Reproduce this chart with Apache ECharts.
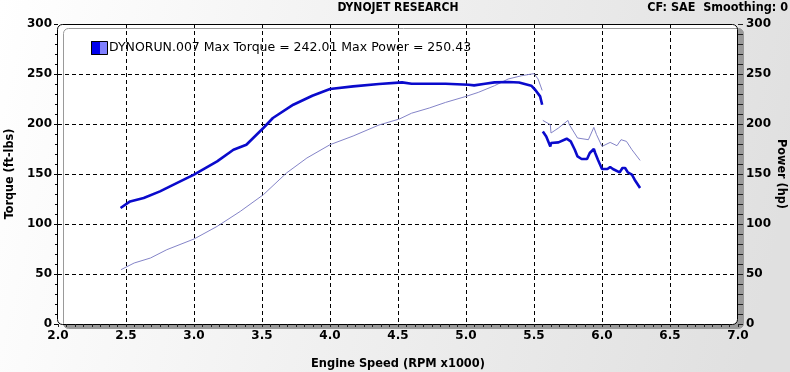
<!DOCTYPE html>
<html>
<head>
<meta charset="utf-8">
<script src="https://cdn.jsdelivr.net/npm/echarts@6/dist/echarts.min.js"></script>
<style>
html,body{margin:0;padding:0;}
#c{width:790px;height:372px;}
</style>
</head>
<body>
<div id="c"></div>
<script>
// ---- data ----
var xTicks = [2.0, 2.5, 3.0, 3.5, 4.0, 4.5, 5.0, 5.5, 6.0, 6.5, 7.0];
var yTicks = [0, 50, 100, 150, 200, 250, 300];

var torqueRpm = [2.46,2.53,2.63,2.75,2.85,3.00,3.17,3.29,3.385,3.51,3.58,3.73,3.87,4.00,4.17,4.36,4.53,4.60,4.85,5.02,5.06,5.14,5.21,5.31,5.39,5.48,5.51,5.545,5.56,
  5.5625,
  5.565,5.59,5.62,5.625,5.68,5.74,5.77,5.80,5.82,5.85,5.89,5.91,5.94,5.95,5.97,6.00,6.04,6.06,6.08,6.13,6.15,6.17,6.19,6.22,6.24,6.28];
var torqueVal = [116,122.6,126,132.6,139.3,149.3,162.6,174.3,179.3,196,206,219.3,228.3,235,237.6,240,241.6,240.3,240.3,239.3,238.6,240.3,241.6,242,241.5,238.3,234,227.6,219.3,
  '-',
  192.6,187.6,177.6,181,181.6,185.3,182.6,174.3,167.6,165,165,171,175,171,164.3,155,155,157,155,151.6,156,156,151.6,149.3,144.3,136];

var powerRpm = [2.463,2.56,2.68,2.80,3.00,3.17,3.34,3.51,3.68,3.83,4.00,4.17,4.36,4.51,4.60,4.73,4.85,5.00,5.09,5.21,5.31,5.41,5.50,5.53,5.56,
  5.5625,
  5.565,5.62,5.625,5.68,5.75,5.76,5.82,5.90,5.94,5.96,6.00,6.06,6.11,6.14,6.18,6.22,6.28];
var powerVal = [54.3,61,66,74.3,85,97.6,112.6,129.3,151,166,179.3,188,199,205,210.8,216,221.6,227.6,231.6,238.3,245,248.3,250.4,245,233.6,
  '-',
  203.6,199.3,191,196,203.6,199.3,186,184.3,196.6,189.3,177.6,181.6,178.3,184.3,182.6,174.3,163.6];

var titleText = 'DYNOJET RESEARCH';
var cornerText = 'CF: SAE  Smoothing: 0';
var legendText = 'DYNORUN.007 Max Torque = 242.01 Max Power = 250.43';
var xName = 'Engine Speed (RPM x1000)';
var yLeftName = 'Torque (ft-lbs)';
var yRightName = 'Power (hp)';

function pairs(xs, ys){ return xs.map(function(x,i){ return [x, ys[i]]; }); }

var COND = "'DejaVu Sans Condensed','DejaVu Sans',sans-serif";
var SANS = "'DejaVu Sans',Verdana,sans-serif";

var chart = echarts.init(document.getElementById('c'), null, {renderer:'canvas'});
var option = {
  animation: false,
  backgroundColor: {
    type:'linear', x:0, y:0, x2:1, y2:0.5,
    colorStops:[{offset:0,color:'#ffffff'},{offset:1,color:'#e0e0e0'}]
  },
  grid: {left:58, right:52, top:24, bottom:48, containLabel:false, outerBoundsMode:'none'},
  graphic: [
    {type:'rect', z:-10, shape:{x:57.5,y:24.5,width:680,height:300,r:5},
      style:{fill:'#ffffff', stroke:'#000000', lineWidth:1,
        shadowColor:'#9a9a9a', shadowOffsetX:6, shadowOffsetY:4, shadowBlur:0}},
    {type:'text', x:398, y:8, z:10, style:{text:titleText, fill:'#000', font:'bold 12px '+COND, align:'center', verticalAlign:'middle'}},
    {type:'text', x:788, y:8, z:10, style:{text:cornerText, fill:'#000', font:'bold 12.5px '+COND, align:'right', verticalAlign:'middle'}},
    {type:'rect', z:10, shape:{x:91,y:41,width:9,height:14}, style:{fill:'#0000ee'}},
    {type:'rect', z:10, shape:{x:100,y:41,width:8,height:14}, style:{fill:'#8080ff'}},
    {type:'rect', z:11, shape:{x:91.5,y:41.5,width:16,height:13}, style:{fill:'none', stroke:'#000', lineWidth:1}},
    {type:'text', x:109, y:48, z:10, style:{text:legendText, fill:'#000', font:'12.5px '+SANS, align:'left', verticalAlign:'middle'}}
  ],
  xAxis: {
    type:'value', min:xTicks[0], max:xTicks[xTicks.length-1], interval:0.5,
    name:xName, nameLocation:'middle', nameGap:33,
    nameTextStyle:{fontFamily:COND, fontWeight:'bold', fontSize:12.7, color:'#000'},
    axisLine:{show:false},
    axisTick:{show:true, length:3, lineStyle:{color:'#222'}},
    minorTick:{show:true, splitNumber:8, length:3, lineStyle:{color:'#222'}},
    axisLabel:{formatter:function(v){return v.toFixed(1);}, fontFamily:SANS, fontWeight:'bold', fontSize:12, color:'#000', margin:6},
    splitLine:{show:true, showMinLine:false, showMaxLine:false, lineStyle:{color:'#000', type:[4,3], width:1}}
  },
  yAxis: [
    {type:'value', min:yTicks[0], max:yTicks[yTicks.length-1], interval:50, position:'left',
      name:yLeftName, nameLocation:'middle', nameGap:41, nameRotate:90,
      nameTextStyle:{fontFamily:COND, fontWeight:'bold', fontSize:12.5, color:'#000'},
      axisLine:{show:false},
      axisTick:{show:true, length:4, lineStyle:{color:'#000'}},
      minorTick:{show:true, splitNumber:5, length:3, lineStyle:{color:'#000'}},
      axisLabel:{fontFamily:SANS, fontWeight:'bold', fontSize:12, color:'#000', margin:6},
      splitLine:{show:true, showMinLine:false, showMaxLine:false, lineStyle:{color:'#000', type:[4,3], width:1}}
    },
    {type:'value', min:yTicks[0], max:yTicks[yTicks.length-1], interval:50, position:'right',
      name:yRightName, nameLocation:'middle', nameGap:37, nameRotate:-90, nameMoveOverlap:false,
      nameTextStyle:{fontFamily:COND, fontWeight:'bold', fontSize:12.5, color:'#000'},
      axisLine:{show:false},
      axisTick:{show:true, length:5, lineStyle:{color:'#222'}},
      minorTick:{show:true, splitNumber:5, length:5, lineStyle:{color:'#222'}},
      axisLabel:{fontFamily:SANS, fontWeight:'bold', fontSize:12, color:'#000', margin:8},
      splitLine:{show:false}
    }
  ],
  series: [
    {type:'line', name:'Power', yAxisIndex:1, data:pairs(powerRpm, powerVal), showSymbol:false, symbol:'none',
      connectNulls:false, lineStyle:{color:'#8484c8', width:1}, z:3},
    {type:'line', name:'Torque', yAxisIndex:0, data:pairs(torqueRpm, torqueVal), showSymbol:false, symbol:'none',
      connectNulls:false, lineStyle:{color:'#0a0acc', width:2.6}, z:4}
  ]
};
chart.setOption(option);
</script>
</body>
</html>
